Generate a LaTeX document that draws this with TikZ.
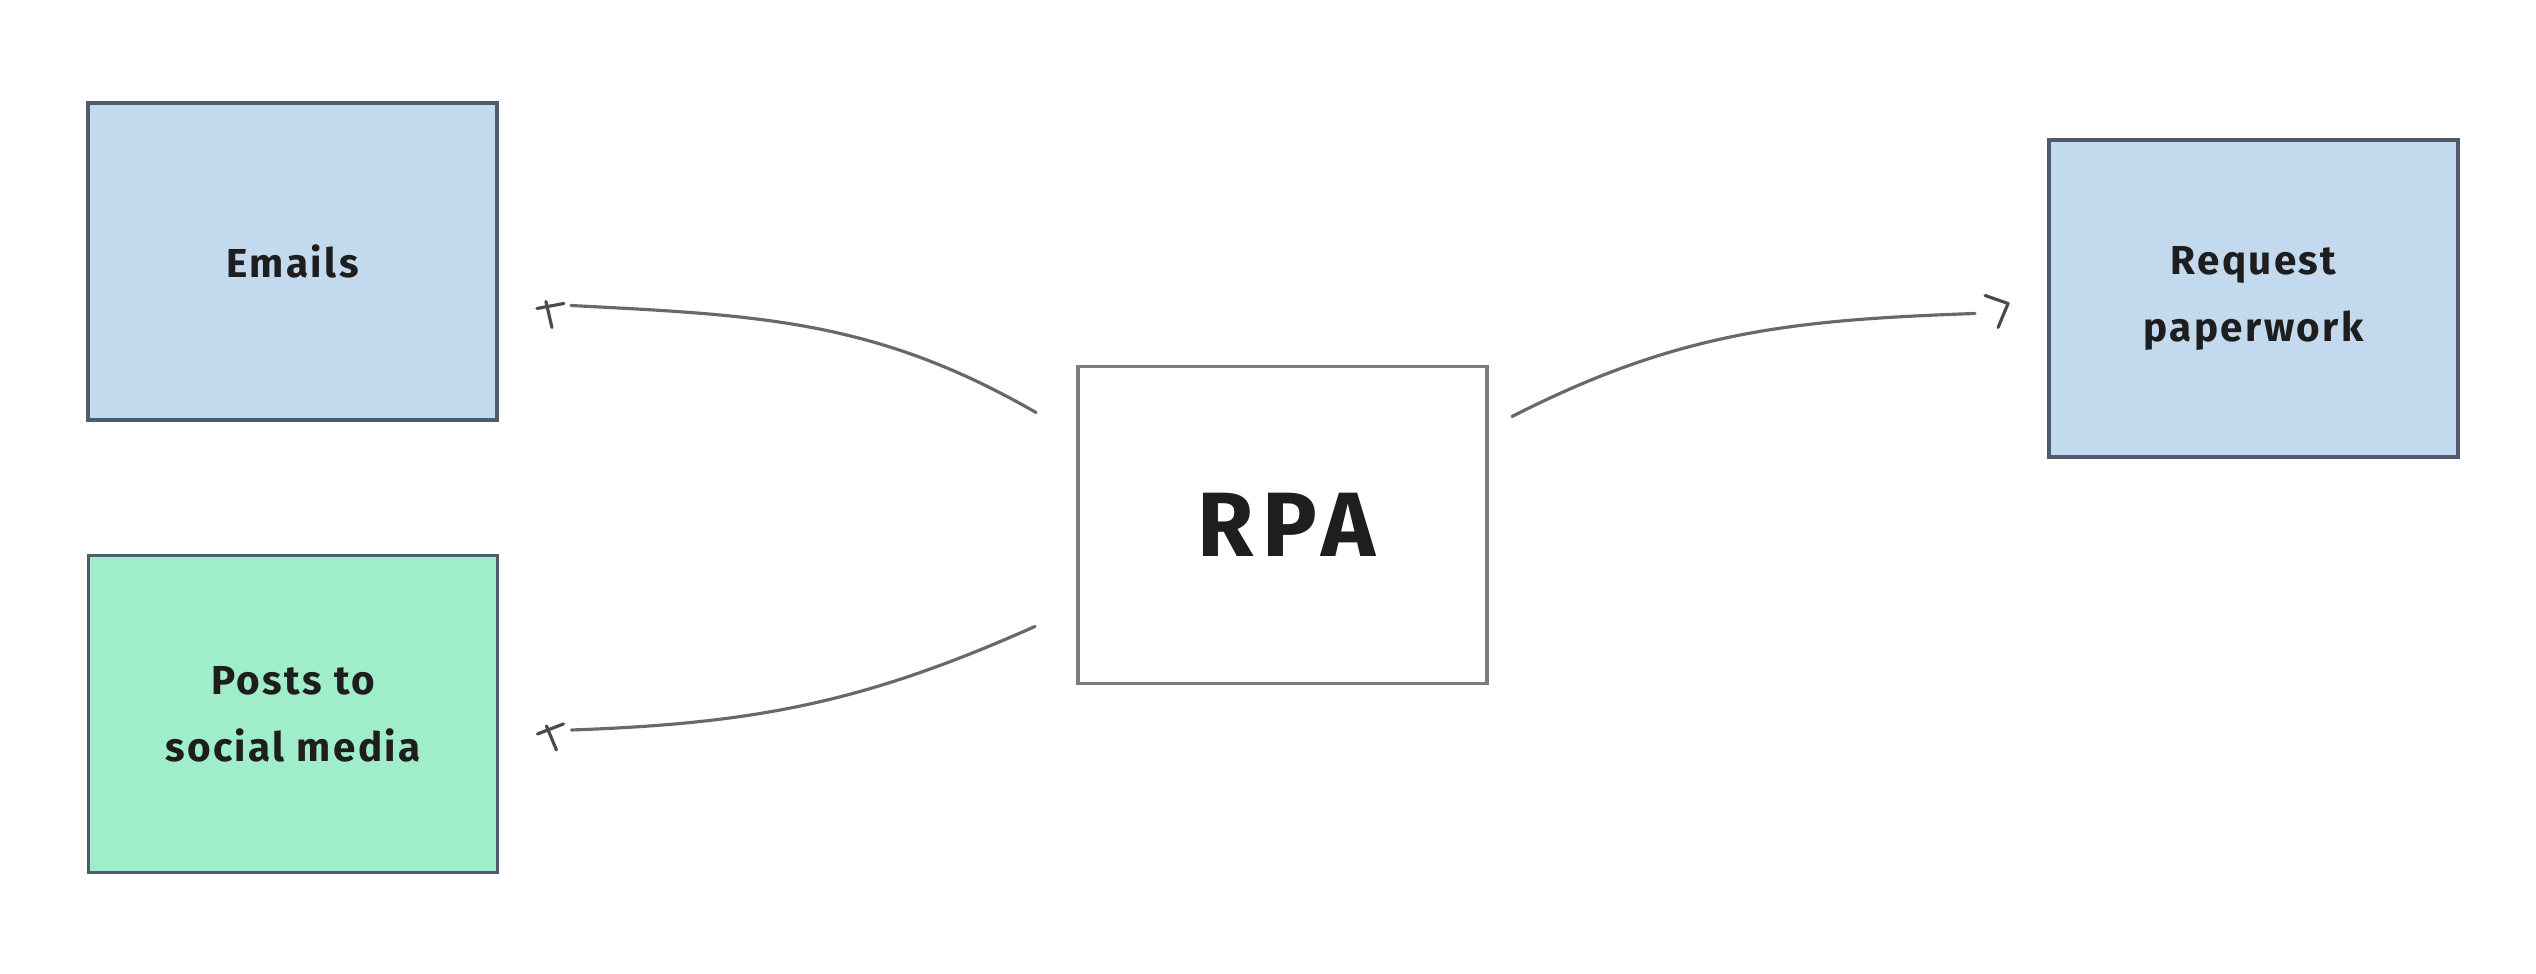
\documentclass[tikz,border=0pt]{standalone}
\usepackage{fontspec}
\setmainfont{Fira Sans}
\newfontfamily\rpafont{Fira Sans}[LetterSpace=10]
\usetikzlibrary{calc}
\definecolor{boxblue}{RGB}{195,217,238}
\definecolor{boxgreen}{RGB}{160,237,202}
\definecolor{edgeblue}{RGB}{78,92,110}
\definecolor{edgegrey}{RGB}{125,125,125}
\definecolor{wire}{RGB}{105,105,105}
\definecolor{ink}{RGB}{30,30,30}
\tikzset{
  card/.style={rectangle, draw=edgeblue, line width=1.1pt, minimum width=4.09cm, minimum height=3.17cm, inner sep=0pt, align=center, text=ink, font=\fontsize{11.5}{19}\selectfont\bfseries\addfontfeatures{LetterSpace=6}},
  bluecard/.style={card, fill=boxblue},
  greencard/.style={card, fill=boxgreen},
  centercard/.style={card, draw=edgegrey, fill=white, font=\fontsize{26}{28}\selectfont\rpafont\bfseries},
  wireline/.style={draw=wire, line width=0.9pt, line cap=round},
  tipline/.style={draw=ink!80, line width=0.9pt, line cap=round, line join=round}
}
\begin{document}
\begin{tikzpicture}
\useasboundingbox[fill=white] (0,0) rectangle (25.36,-9.74);
\node[bluecard] (emails) at (2.925,-2.615) {Emails};
\node[greencard] (posts) at (2.93,-7.14) {Posts to\\social media};
\node[centercard] (rpa) at (12.825,-5.25) {\hspace*{0.08cm}RPA};
\node[bluecard] (request) at (22.535,-2.985) {Request\\paperwork};
% connector RPA -> Emails
\coordinate (e1) at ($(emails.east)+(0.72,-0.44)$);
\draw[wireline] ($(rpa.north west)+(-0.40,-0.48)$) to[out=150,in=-3] (e1);
\draw[tipline] ($(e1)+(-0.34,-0.03)$) -- ($(e1)+(-0.07,0.02)$);
\draw[tipline] ($(e1)+(-0.25,0.04)$) -- ($(e1)+(-0.19,-0.22)$);
% connector RPA -> Posts
\coordinate (p1) at ($(posts.east)+(0.72,-0.16)$);
\draw[wireline] ($(rpa.south west)+(-0.41,0.59)$) to[out=204,in=2] (p1);
\draw[tipline] ($(p1)+(-0.34,-0.04)$) -- ($(p1)+(-0.08,0.06)$);
\draw[tipline] ($(p1)+(-0.25,0.04)$) -- ($(p1)+(-0.15,-0.20)$);
% connector RPA -> Request
\coordinate (r1) at ($(request.west)+(-0.72,-0.15)$);
\draw[wireline] ($(rpa.north east)+(0.23,-0.52)$) to[out=27,in=182] (r1);
\draw[tipline] ($(r1)+(0.10,0.18)$) -- ($(r1)+(0.33,0.10)$) -- ($(r1)+(0.23,-0.14)$);
\end{tikzpicture}
\end{document}
